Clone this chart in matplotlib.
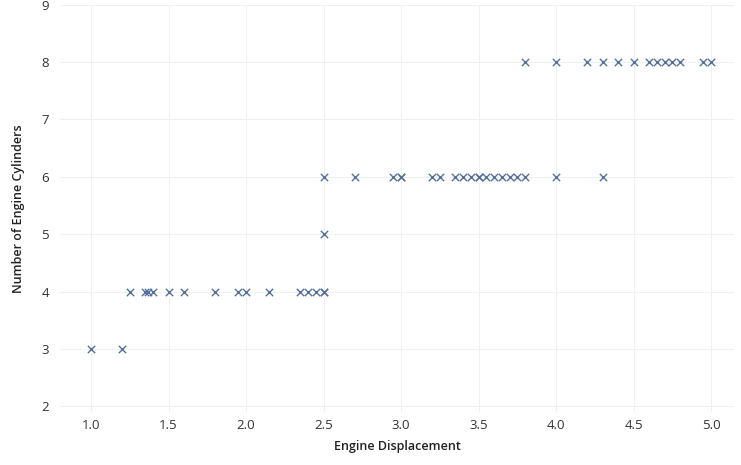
import matplotlib
matplotlib.use('Agg')
import matplotlib.pyplot as plt

# engine displacement (litres) and number of cylinders
displ_3 = [1.0, 1.2]
displ_4 = [1.25, 1.35, 1.37, 1.4, 1.5, 1.6, 1.8, 1.95, 2.0, 2.15,
           2.35, 2.4, 2.45, 2.5, 2.5]
displ_5 = [2.5]
displ_6 = [2.5, 2.7, 2.95, 3.0, 3.0, 3.2, 3.25, 3.35, 3.4, 3.45, 3.5, 3.5,
           3.55, 3.6, 3.65, 3.7, 3.75, 3.8, 4.0, 4.3]
displ_8 = [3.8, 4.0, 4.2, 4.3, 4.4, 4.5, 4.6, 4.65, 4.7, 4.75, 4.8, 4.95, 5.0]

groups = [(3, displ_3), (4, displ_4), (5, displ_5), (6, displ_6), (8, displ_8)]
x_ticks = [1.0, 1.5, 2.0, 2.5, 3.0, 3.5, 4.0, 4.5, 5.0]
y_ticks = [2, 3, 4, 5, 6, 7, 8, 9]

plt.rcParams['font.family'] = ['Open Sans', 'DejaVu Sans']

fig = plt.figure(figsize=(7.41, 4.65), dpi=100)
ax = fig.add_axes([0.081, 0.114, 0.91, 0.876])

xs, ys = [], []
for cyl, vals in groups:
    xs += vals
    ys += [cyl] * len(vals)
ax.scatter(xs, ys, marker='x', s=28, linewidths=1.0, color='#55709a')

ax.set_xlim(0.8, 5.15)
ax.set_ylim(1.9, 9.0)
ax.set_xticks(x_ticks)
ax.set_xticklabels(['%.1f' % v for v in x_ticks])
ax.set_yticks(y_ticks)
ax.grid(True, color='#f0f0f0', linewidth=0.8)
ax.set_axisbelow(True)
for s in ax.spines.values():
    s.set_visible(False)
ax.tick_params(axis='x', length=0, labelsize=9.5, colors='#333333', pad=5)
ax.tick_params(axis='y', length=0, labelsize=9.5, colors='#333333', pad=8)

ax.set_xlabel('Engine Displacement', fontsize=9, fontweight='semibold',
              color='#222222', labelpad=6)
ax.set_ylabel('Number of Engine Cylinders', fontsize=9, fontweight='semibold',
              color='#222222', labelpad=12)

fig.savefig('out.png', dpi=100)
